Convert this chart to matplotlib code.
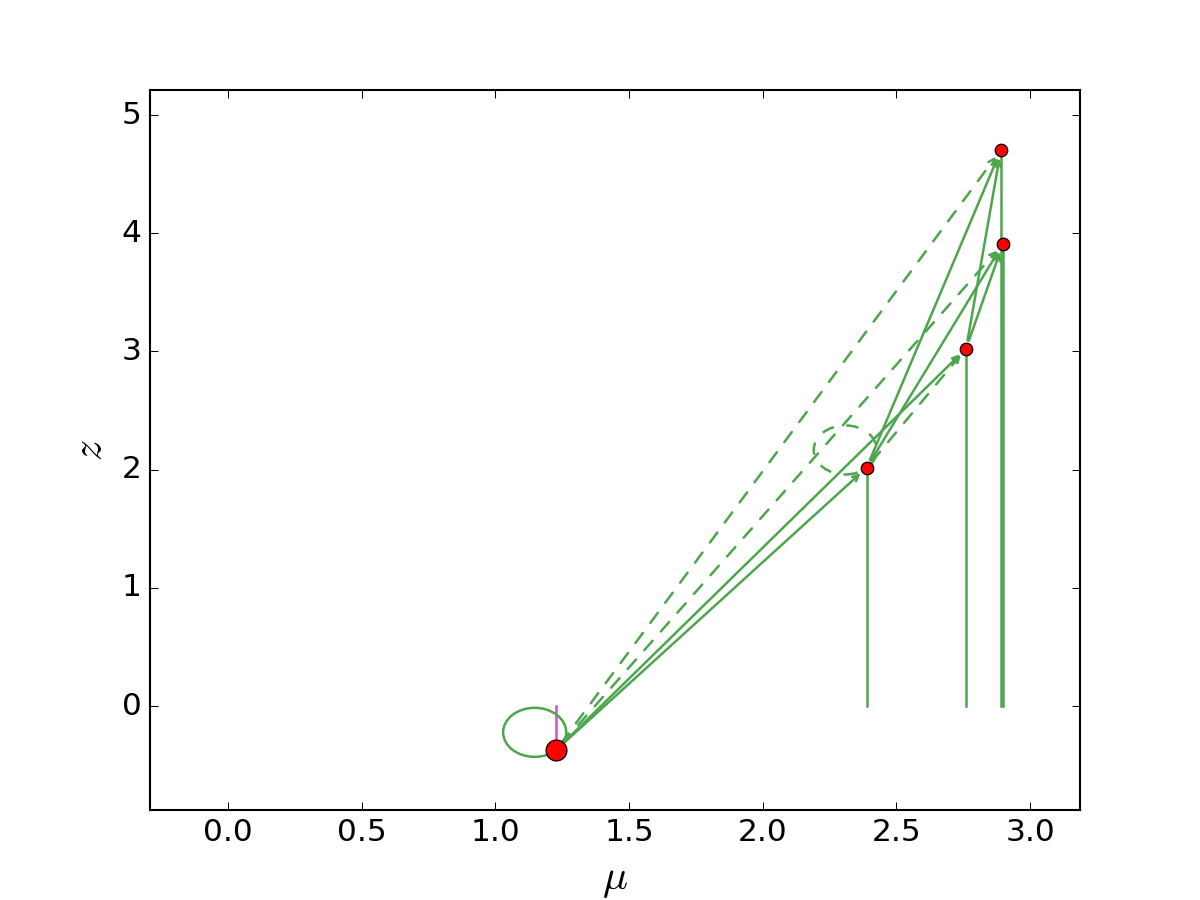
import matplotlib
matplotlib.use("Agg")
import matplotlib.pyplot as plt
from matplotlib.patches import Ellipse

plt.style.use('classic')

# node data (mu, z)
names = ["A", "B", "C", "D", "E"]
mu = [1.227, 2.389, 2.761, 2.898, 2.891]
z = [-0.372, 2.017, 3.025, 3.907, 4.704]
sizes = [10, 6, 6, 6, 6]

solid_edges = [("A", "B"), ("A", "C"), ("B", "D"), ("B", "E"), ("C", "D"), ("C", "E")]
dashed_edges = [("A", "D"), ("A", "E"), ("B", "C")]
loops = [("A", "-"), ("B", "--")]

green = '#4da64d'
magenta = '#d24dd2'

fig = plt.figure(figsize=(8, 6), dpi=150, facecolor='white')
ax = fig.add_subplot(111)
fig.subplots_adjust(left=0.125, right=0.9, bottom=0.1, top=0.9)

idx = {n: i for i, n in enumerate(names)}

# vertical drop lines to z = 0
for i, n in enumerate(names):
    c = magenta if i == 0 else green
    ax.plot([mu[i], mu[i]], [z[i], 0], color=c, lw=1.2, zorder=1)

# edges
def edge(a, b, ls):
    ia, ib = idx[a], idx[b]
    ax.annotate('', xy=(mu[ib], z[ib]), xytext=(mu[ia], z[ia]),
                arrowprops=dict(arrowstyle='->', color=green, lw=1.2,
                                linestyle=ls, shrinkA=4, shrinkB=4,
                                mutation_scale=7),
                zorder=2)

for a, b in solid_edges:
    edge(a, b, '-')
for a, b in dashed_edges:
    edge(a, b, '--')

# self loops
for n, ls in loops:
    i = idx[n]
    e = Ellipse((mu[i] - 0.08, z[i] + 0.15), 0.236, 0.415, fill=False,
                edgecolor=green, lw=1.2, linestyle=ls, zorder=2)
    ax.add_patch(e)

# nodes
for i in range(len(names)):
    ax.plot(mu[i], z[i], 'o', color='red', mec='k', mew=0.6,
            ms=sizes[i], zorder=5)

ax.set_xlim(-0.292, 3.187)
ax.set_ylim(-0.879, 5.212)
ax.set_xticks([0.0, 0.5, 1.0, 1.5, 2.0, 2.5, 3.0])
ax.set_yticks([0, 1, 2, 3, 4, 5])
ax.tick_params(labelsize=15)
ax.set_xlabel(r'$\mu$', fontsize=20)
ax.set_ylabel(r'$z$', fontsize=20)

fig.savefig('out.png', dpi=150, facecolor='white')
